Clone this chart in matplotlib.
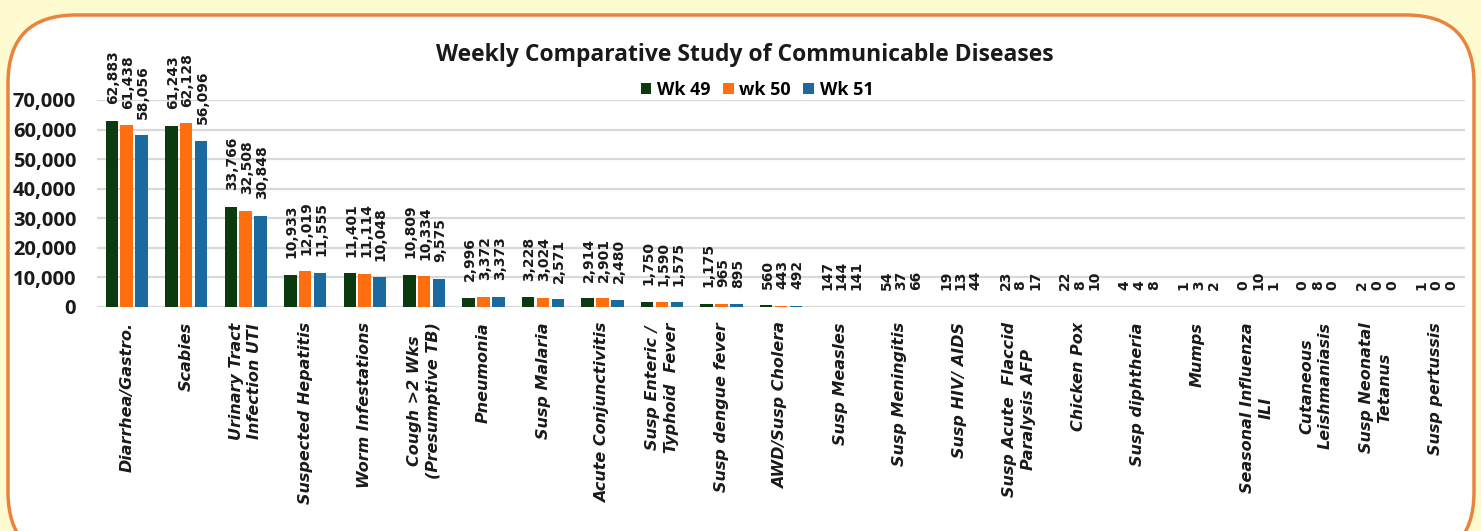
import matplotlib
matplotlib.use("Agg")
import matplotlib.pyplot as plt
from matplotlib.patches import FancyBboxPatch
import numpy as np

categories = [
    "Diarrhea/Gastro.", "Scabies", "Urinary Tract\nInfection UTI", "Suspected Hepatitis",
    "Worm Infestations", "Cough >2 Wks\n(Presumptive TB)", "Pneumonia", "Susp Malaria",
    "Acute Conjunctivitis", "Susp Enteric /\nTyphoid  Fever", "Susp dengue fever",
    "AWD/Susp Cholera", "Susp Measles", "Susp Meningitis", "Susp HIV/ AIDS",
    "Susp Acute  Flaccid\nParalysis AFP", "Chicken Pox", "Susp diphtheria", "Mumps",
    "Seasonal Influenza\nILI", "Cutaneous\nLeishmaniasis", "Susp Neonatal\nTetanus",
    "Susp pertussis",
]
wk49 = [62883, 61243, 33766, 10933, 11401, 10809, 2996, 3228, 2914, 1750, 1175,
        560, 147, 54, 19, 23, 22, 4, 1, 0, 0, 2, 1]
wk50 = [61438, 62128, 32508, 12019, 11114, 10334, 3372, 3024, 2901, 1590, 965,
        443, 144, 37, 13, 8, 8, 4, 3, 10, 8, 0, 0]
wk51 = [58056, 56096, 30848, 11555, 10048, 9575, 3373, 2571, 2480, 1575, 895,
        492, 141, 66, 44, 17, 10, 8, 2, 1, 0, 0, 0]
series_names = ["Wk 49", "wk 50", "Wk 51"]
yticks = [0, 10000, 20000, 30000, 40000, 50000, 60000, 70000]
title = "Weekly Comparative Study of Communicable Diseases"

colors = ["#0B3A0E", "#FF6F0F", "#1A6AA0"]
W, H = 1481, 531
fig = plt.figure(figsize=(W / 100, H / 100), dpi=100)
fig.patch.set_facecolor("#FEFBD0")

# background rounded panel
bg = fig.add_axes([0, 0, 1, 1])
bg.set_xlim(0, W)
bg.set_ylim(H, 0)
bg.axis("off")
panel = FancyBboxPatch((8, 15), 1466, 545, boxstyle="round,pad=0,rounding_size=68",
                       facecolor="white", edgecolor="#E8843E", linewidth=2.5)
bg.add_patch(panel)

ax = fig.add_axes([97 / W, 1 - 307 / H, 1368 / W, 207 / H])
ax.set_facecolor("none")
x = np.arange(len(categories))
offs = [-0.25, 0.0, 0.25]
bw = 0.21
for vals, off, c, name in zip([wk49, wk50, wk51], offs, colors, series_names):
    ax.bar(x + off, vals, width=bw, color=c, label=name, zorder=3)
    for xi, v in zip(x + off, vals):
        ax.annotate(f"{v:,}", (xi, v), xytext=(1, 12), textcoords="offset points",
                    rotation=90, ha="center", va="bottom", fontsize=10,
                    fontweight="bold", color="#1a1a1a", family="DejaVu Sans",
                    annotation_clip=False, zorder=4)

ax.set_xlim(-0.5, len(categories) - 0.5)
ax.set_ylim(0, 70000)
ax.set_yticks(yticks)
ax.set_yticklabels([f"{t:,}" for t in yticks], fontsize=14.5, fontweight="bold",
                   family="Open Sans", color="#1a1a1a")
ax.tick_params(axis="y", length=0, pad=15)
ax.set_xticks(x)
ax.set_xticklabels(categories, rotation=90, ha="center", va="top",
                   multialignment="center", fontsize=11.5, fontweight="bold",
                   style="italic", family="DejaVu Sans", color="#1a1a1a",
                   linespacing=1.3)
ax.tick_params(axis="x", length=0, pad=11)
for s in ax.spines.values():
    s.set_visible(False)
ax.grid(axis="y", color="#D9D9D9", linewidth=1.6, zorder=0)
ax.set_axisbelow(True)

fig.text(745 / W, 1 - 55 / H, title, ha="center", va="center", fontsize=16.5,
         fontweight="bold", family="Open Sans", color="#1a1a1a")
fig.legend(loc="center", bbox_to_anchor=(757 / W, 1 - 90 / H), ncol=3, frameon=False,
           prop={"family": "Open Sans", "weight": "bold", "size": 13},
           handlelength=0.6, handleheight=0.6, handletextpad=0.3, columnspacing=0.7)

fig.savefig("out.png", dpi=100, facecolor=fig.get_facecolor())
